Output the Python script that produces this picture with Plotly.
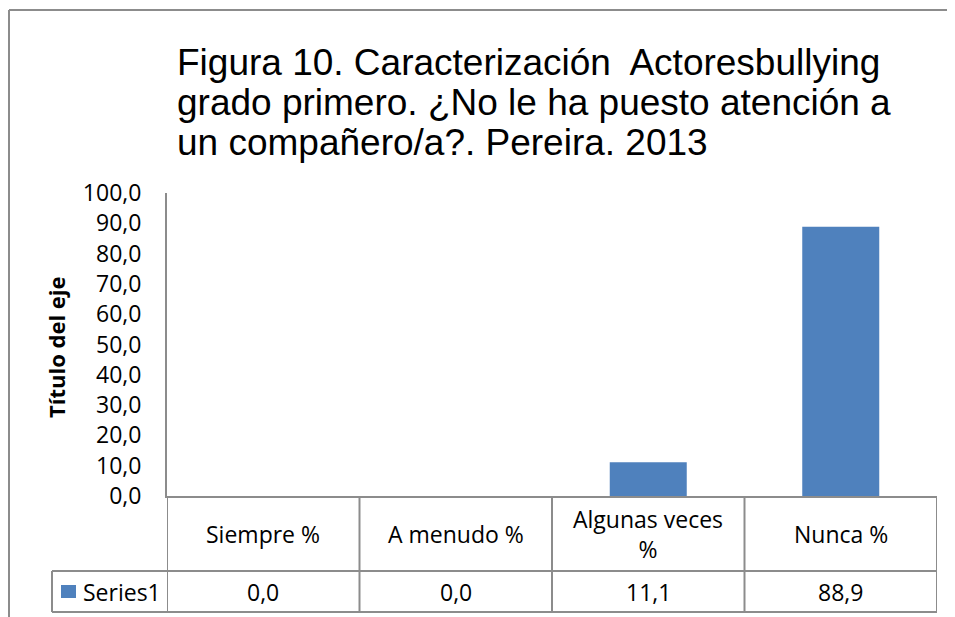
import plotly.graph_objects as go

# datos de la figura
categorias = ["Siempre %", "A menudo %", "Algunas veces<br>%", "Nunca %"]
valores = [0.0, 0.0, 11.1, 88.9]
serie = "Series1"
titulo = [
    "Figura 10. Caracterización\u00a0 Actoresbullying",
    "grado primero. ¿No le ha puesto atención a",
    "un compañero/a?. Pereira. 2013",
]
eje_y = "Título del eje"
y_ticks = [0, 10, 20, 30, 40, 50, 60, 70, 80, 90, 100]

AZUL = "#4F81BD"
GRIS = "#8C8C8C"
FUENTE = "Open Sans"

# geometria en pixeles de pantalla; la pagina pone 8px de margen al body
W, H = 955, 617
OFF = 8
X0, X1, Y0, Y1 = 167, 937, 193, 496   # area del grafico en pantalla
L, T = X0 - OFF, Y0 - OFF
R, B = W - (X1 - OFF), H - (Y1 - OFF)
pw, ph = X1 - X0, Y1 - Y0


def px_x(x):
    return (x - X0) / pw


def px_y(y):
    return (Y1 - y) / ph


fig = go.Figure()
fig.add_trace(go.Bar(x=list(range(len(valores))), y=valores, marker_color=AZUL,
                     marker_line_width=0, name=serie, showlegend=False))

fig.update_layout(
    width=W, height=H,
    margin=dict(l=L, r=R, t=T, b=B),
    plot_bgcolor="white", paper_bgcolor="white",
    separators=",.",
    bargap=0.6,
    font=dict(family=FUENTE, size=23, color="black"),
)
fig.update_xaxes(range=[-0.5, len(valores) - 0.5], showticklabels=False,
                 showgrid=False, zeroline=False, showline=True,
                 linecolor=GRIS, linewidth=2)
fig.update_yaxes(range=[0, 100], tickvals=y_ticks, tickformat=".1f",
                 showgrid=False, zeroline=False, showline=True,
                 linecolor=GRIS, linewidth=2, ticks="", ticklabelstandoff=19,
                 tickfont=dict(family=FUENTE, size=23))

# titulo, linea por linea
for i, linea in enumerate(titulo):
    fig.add_annotation(text=linea, xref="paper", yref="paper",
                       x=px_x(175), y=px_y(62 + 40 * i), xanchor="left",
                       yanchor="middle", showarrow=False,
                       font=dict(family="Liberation Sans", size=37, color="black"))

# titulo del eje
fig.add_annotation(text="<b>" + eje_y + "</b>", xref="paper", yref="paper",
                   x=px_x(56), y=px_y(347), textangle=-90, showarrow=False,
                   xanchor="center", yanchor="middle",
                   font=dict(family=FUENTE, size=22, color="black"))

# tabla de datos
y_cat, y_fila, y_val, y_fin = 534, 571, 592, 612
lineas = dict(color=GRIS, width=2)
n = len(valores)
for k in range(n + 1):
    fig.add_shape(type="line", xref="x", yref="paper", x0=k - 0.5, x1=k - 0.5,
                  y0=0, y1=px_y(y_fin), line=lineas)
for yy in (y_fila, y_fin):
    fig.add_shape(type="line", xref="paper", yref="paper", x0=px_x(52), x1=1,
                  y0=px_y(yy), y1=px_y(yy), line=lineas)
fig.add_shape(type="line", xref="paper", yref="paper", x0=px_x(52), x1=px_x(52),
              y0=px_y(y_fila), y1=px_y(y_fin), line=lineas)

for k, (c, v) in enumerate(zip(categorias, valores)):
    fig.add_annotation(text=c, xref="x", yref="paper", x=k, y=px_y(y_cat),
                       xanchor="center", yanchor="middle", showarrow=False)
    fig.add_annotation(text=f"{v:.1f}".replace(".", ","), xref="x", yref="paper",
                       x=k, y=px_y(y_val), xanchor="center", yanchor="middle",
                       showarrow=False)

# clave de la serie
fig.add_shape(type="rect", xref="paper", yref="paper", x0=px_x(61), x1=px_x(76),
              y0=px_y(598), y1=px_y(585), fillcolor=AZUL, line_width=0)
fig.add_annotation(text=serie, xref="paper", yref="paper", x=px_x(81),
                   y=px_y(y_val), xanchor="left", yanchor="middle",
                   showarrow=False)

# borde exterior del grafico
fig.add_shape(type="line", xref="paper", yref="paper", x0=px_x(9), x1=px_x(980),
              y0=px_y(10), y1=px_y(10), line=dict(color=GRIS, width=2))
fig.add_shape(type="line", xref="paper", yref="paper", x0=px_x(9), x1=px_x(9),
              y0=px_y(10), y1=px_y(640), line=dict(color=GRIS, width=2))

fig.write_html("out.html")
